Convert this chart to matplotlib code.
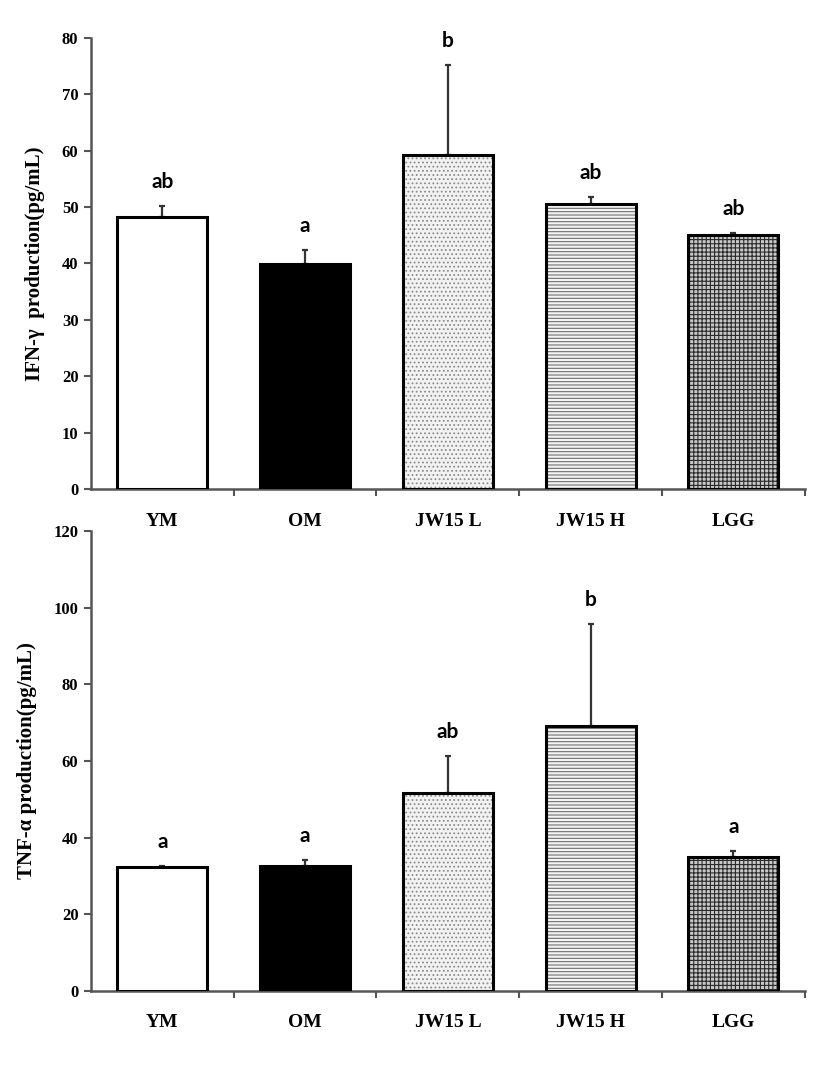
import matplotlib
matplotlib.use("Agg")
from matplotlib import pyplot as plt
import numpy as np

groups = ["YM", "OM", "JW15 L", "JW15 H", "LGG"]

ifn_mean = [48.2, 39.9, 59.2, 50.5, 45.0]
ifn_err = [2.0, 2.4, 16.0, 1.3, 0.4]
ifn_sig = ["ab", "a", "b", "ab", "ab"]

tnf_mean = [32.2, 32.7, 51.7, 69.2, 34.8]
tnf_err = [0.3, 1.5, 9.7, 26.5, 1.7]
tnf_sig = ["a", "a", "ab", "b", "a"]

serif = "Liberation Serif"
sans = "Lato"

# fill, hatch, hatch colour per group
styles = [
    ("white", None, "black"),
    ("black", None, "black"),
    ("#f2f2f2", "....", "#8c8c8c"),
    ("#f4f4f4", "-----", "#6e6e6e"),
    ("#c8c8c8", "++++", "#2a2a2a"),
]
plt.rcParams["hatch.linewidth"] = 0.8


def panel(ax, mean, err, sig, ymax, step, ylabel):
    x = np.arange(len(groups))
    w = 0.63
    for i in range(len(groups)):
        fc, hatch, hc = styles[i]
        if hatch:
            ax.bar(x[i], mean[i], w, color=fc, edgecolor=hc, hatch=hatch, linewidth=0, zorder=2)
        else:
            ax.bar(x[i], mean[i], w, color=fc, linewidth=0, zorder=2)
        ax.bar(x[i], mean[i], w, fill=False, edgecolor="black", linewidth=2.2, zorder=3)
    ax.errorbar(x, mean, yerr=[np.zeros(len(err)), err], fmt="none", ecolor="#333333",
                elinewidth=1.6, capsize=2, capthick=1.6, zorder=1)
    for i in range(len(groups)):
        ax.annotate(sig[i], (x[i], mean[i] + err[i]), xytext=(0, 10), textcoords="offset points",
                    ha="center", va="bottom", fontsize=15, fontweight="bold", family=sans)

    ax.set_xlim(-0.5, len(groups) - 0.5)
    ax.set_ylim(0, ymax)
    ax.set_yticks(np.arange(0, ymax + 1, step))
    ax.set_xticks(x)
    ax.set_xticklabels(groups)
    ax.set_xticks(np.arange(0.5, len(groups), 1), minor=True)
    ax.tick_params(axis="x", which="major", length=0, pad=17)
    ax.tick_params(axis="x", which="minor", length=5, width=1.5, color="#555555")
    ax.tick_params(axis="y", length=5, width=1.5, color="#555555", pad=4)
    for lab in ax.get_xticklabels():
        lab.set_fontfamily(serif)
        lab.set_fontweight("bold")
        lab.set_fontsize(14)
    for lab in ax.get_yticklabels():
        lab.set_fontfamily(serif)
        lab.set_fontweight("bold")
        lab.set_fontsize(12)
    for s in ["top", "right"]:
        ax.spines[s].set_visible(False)
    for s in ["left", "bottom"]:
        ax.spines[s].set_color("#555555")
        ax.spines[s].set_linewidth(1.8)
    ax.set_ylabel(ylabel, family=serif, fontweight="bold", fontsize=15, labelpad=12)


fig = plt.figure(figsize=(8.27, 10.77), dpi=100)
ax1 = fig.add_axes([0.110, 0.546, 0.863, 0.419])
ax2 = fig.add_axes([0.110, 0.080, 0.863, 0.427])

panel(ax1, ifn_mean, ifn_err, ifn_sig, 80, 10, "IFN-\u03b3  production(pg/mL)")
panel(ax2, tnf_mean, tnf_err, tnf_sig, 120, 20, "TNF-\u03b1 production(pg/mL)")

fig.savefig("out.png", dpi=100)
